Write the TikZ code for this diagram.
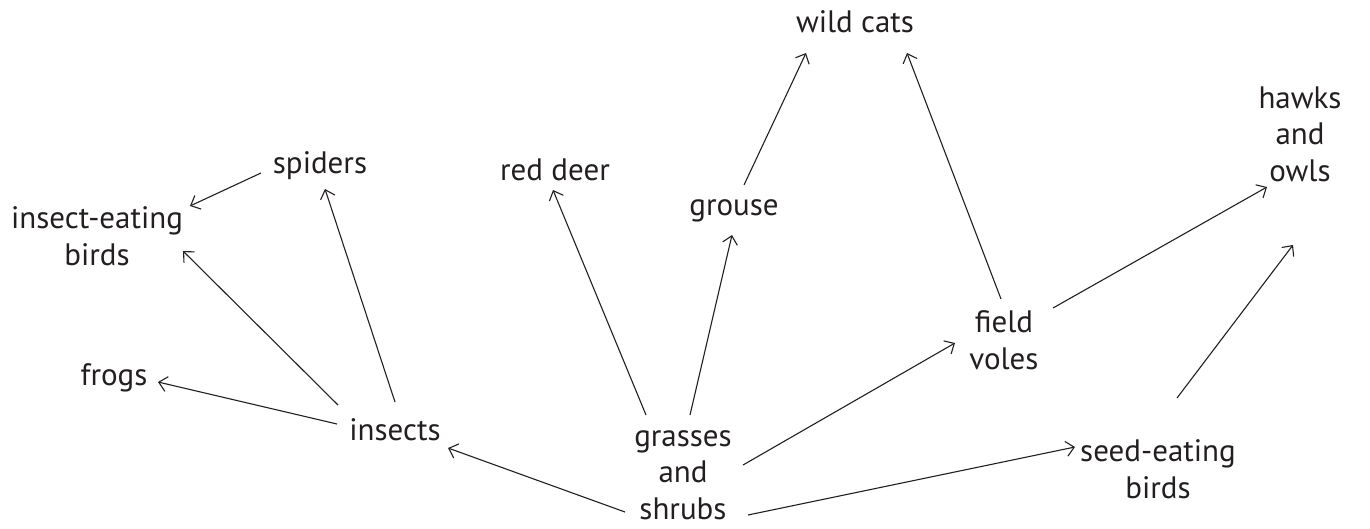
\documentclass[tikz,border=0pt]{standalone}
\usepackage{fontspec}
\setmainfont{PT Sans}
\usetikzlibrary{arrows.meta,calc}
\definecolor{ink}{HTML}{231F20}
\begin{document}
\begin{tikzpicture}[x=1pt,y=-1pt,
  lbl/.style={text=ink,align=center,font=\fontsize{31}{36.5}\selectfont,inner sep=0pt},
  arr/.style={draw=ink,line width=1.1pt,-{Straight Barb[length=8pt,width=15pt,line width=1.1pt]}}]
\useasboundingbox (0,0) rectangle (1370,528);
\node[lbl] (cats) at (855,22) {wild cats};
\node[lbl] (spiders) at (320,166) {spiders};
\node[lbl] (deer) at (555,170) {red deer};
\node[lbl] (hawks) at (1300,134) {hawks\\and\\owls};
\node[lbl] (ieb) at (97,236) {insect-eating\\birds};
\node[lbl] (grouse) at (734,211) {grouse};
\node[lbl] (voles) at (1004,340) {field\\voles};
\node[lbl] (frogs) at (114,378) {frogs};
\node[lbl] (insects) at (395,430) {insects};
\node[lbl] (grass) at (683,475) {grasses\\and\\shrubs};
\node[lbl] (seb) at (1158,469) {seed-eating\\birds};

\draw[arr] ($(spiders)+(-59,7)$) -- ($(ieb)+(93,-30)$);
\draw[arr] ($(insects)+(0,-28)$) -- ($(spiders)+(5,23)$);
\draw[arr] ($(insects)+(-57,-25)$) -- ($(ieb)+(86,15)$);
\draw[arr] ($(insects)+(-58,-6)$) -- ($(frogs)+(44,4)$);
\draw[arr] ($(grass)+(-58,37)$) -- ($(insects)+(53,18)$);
\draw[arr] ($(grass)+(-37,-60)$) -- ($(deer)+(-2,20)$);
\draw[arr] ($(grass)+(7,-60)$) -- ($(grouse)+(-2,24)$);
\draw[arr] ($(grouse)+(10,-26)$) -- ($(cats)+(-49,31)$);
\draw[arr] ($(voles)+(-3,-41)$) -- ($(cats)+(52,31)$);
\draw[arr] ($(grass)+(60,-10)$) -- ($(voles)+(-49,3)$);
\draw[arr] ($(grass)+(65,40)$) -- ($(seb)+(-83,-22)$);
\draw[arr] ($(voles)+(49,-32)$) -- ($(hawks)+(-33,53)$);
\draw[arr] ($(seb)+(19,-71)$) -- ($(hawks)+(-7,111)$);
\end{tikzpicture}
\end{document}
